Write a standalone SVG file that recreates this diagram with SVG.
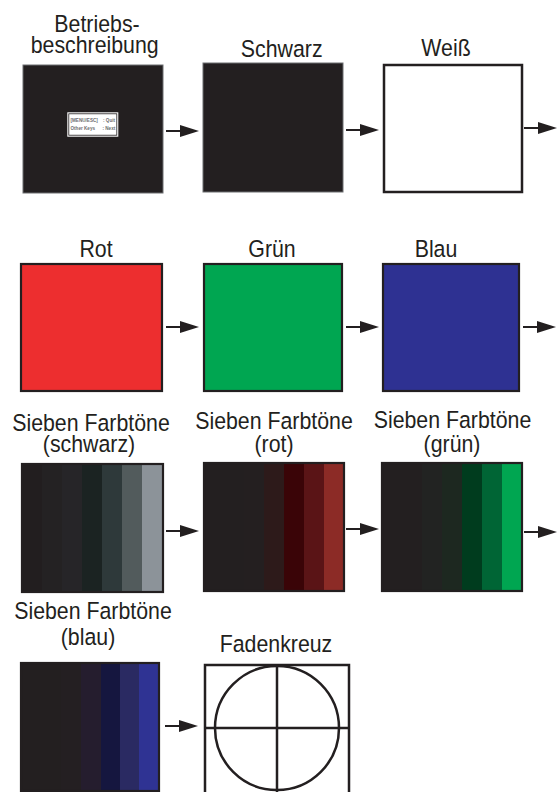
<svg xmlns="http://www.w3.org/2000/svg" width="557" height="792" viewBox="0 0 557 792">
<style>
.lbl{font-family:"Liberation Sans",Arial,sans-serif;font-size:24.5px;fill:#231f20;text-anchor:middle}
.tiny{font-family:"Liberation Sans",Arial,sans-serif;font-size:4.6px;fill:#6d6e71;font-weight:bold}
.blk{fill:#231f20;stroke:#6d6e71;stroke-width:1}
.frame{fill:none;stroke:#231f20;stroke-width:2.2}
.ln{stroke:#231f20;stroke-width:2;fill:none}
</style>
<defs>
<g id="arrow"><line x1="0" y1="0" x2="15" y2="0" class="ln"/><polygon points="14,-6 33,0 14,6" fill="#231f20"/></g>
</defs>
<rect width="557" height="792" fill="#fff"/>

<g id="betrieb">
<g transform="translate(97,32.3) scale(0.87,1)"><text class="lbl">Betriebs-</text></g>
<g transform="translate(94.7,53.3) scale(0.87,1)"><text class="lbl">beschreibung</text></g>
<rect x="23" y="65" width="140" height="128" class="blk"/>
<rect x="67.3" y="112.3" width="51" height="24.4" fill="#fff"/>
<rect x="68.8" y="113.8" width="48" height="21.4" fill="none" stroke="#231f20" stroke-width="0.8"/>
<text class="tiny" x="70.5" y="122">[MENU/ESC]</text><text class="tiny" x="103" y="122">: Quit</text>
<text class="tiny" x="70.5" y="130">Other Keys</text><text class="tiny" x="102.5" y="130">: Next</text>
</g>

<g id="schwarz">
<g transform="translate(281.7,56.7) scale(0.87,1)"><text class="lbl">Schwarz</text></g>
<rect x="203" y="63" width="140" height="129" class="blk"/>
</g>

<g id="weiss">
<g transform="translate(446,55.5) scale(0.87,1)"><text class="lbl">Weiß</text></g>
<rect x="384" y="65" width="138" height="127" fill="#fff" stroke="#231f20" stroke-width="2.5"/>
</g>

<g id="rot">
<g transform="translate(96,257) scale(0.87,1)"><text class="lbl">Rot</text></g>
<rect x="21" y="264" width="141" height="127" style="fill:#ed2e2f" class="frame"/>
</g>
<g id="gruen">
<g transform="translate(272,257) scale(0.87,1)"><text class="lbl">Grün</text></g>
<rect x="204" y="264" width="138" height="127" style="fill:#00a651" class="frame"/>
</g>
<g id="blau">
<g transform="translate(436,257) scale(0.87,1)"><text class="lbl">Blau</text></g>
<rect x="383" y="264" width="136" height="127" style="fill:#2e3192" class="frame"/>
</g>

<g id="toene-schwarz">
<g transform="translate(91,430.5) scale(0.87,1)"><text class="lbl">Sieben Farbtöne</text></g>
<g transform="translate(89,451.5) scale(0.87,1)"><text class="lbl">(schwarz)</text></g>
<rect x="22" y="464" width="20" height="128" fill="#221e1f"/>
<rect x="42" y="464" width="20" height="128" fill="#242223"/>
<rect x="62" y="464" width="20" height="128" fill="#262528"/>
<rect x="82" y="464" width="20" height="128" fill="#1b2322"/>
<rect x="102" y="464" width="20" height="128" fill="#2e393a"/>
<rect x="122" y="464" width="20" height="128" fill="#525b5c"/>
<rect x="142" y="464" width="21" height="128" fill="#8c9399"/>
<rect x="22" y="464" width="141" height="128" class="frame"/>
</g>

<g id="toene-rot">
<g transform="translate(274,428.5) scale(0.87,1)"><text class="lbl">Sieben Farbtöne</text></g>
<g transform="translate(274,452) scale(0.87,1)"><text class="lbl">(rot)</text></g>
<rect x="204" y="463" width="20" height="128" fill="#231f20"/>
<rect x="224" y="463" width="20" height="128" fill="#231f20"/>
<rect x="244" y="463" width="20" height="128" fill="#241f20"/>
<rect x="264" y="463" width="20" height="128" fill="#2d1a1a"/>
<rect x="284" y="463" width="20" height="128" fill="#3a0407"/>
<rect x="304" y="463" width="20" height="128" fill="#5a1416"/>
<rect x="324" y="463" width="20" height="128" fill="#8c2b26"/>
<rect x="204" y="463" width="140" height="128" class="frame"/>
</g>

<g id="toene-gruen">
<g transform="translate(452.5,428) scale(0.87,1)"><text class="lbl">Sieben Farbtöne</text></g>
<g transform="translate(452,452) scale(0.87,1)"><text class="lbl">(grün)</text></g>
<rect x="382" y="463" width="20" height="128" fill="#231f20"/>
<rect x="402" y="463" width="20" height="128" fill="#231f20"/>
<rect x="422" y="463" width="20" height="128" fill="#222322"/>
<rect x="442" y="463" width="20" height="128" fill="#1d2820"/>
<rect x="462" y="463" width="20" height="128" fill="#003c1e"/>
<rect x="482" y="463" width="20" height="128" fill="#006535"/>
<rect x="502" y="463" width="20" height="128" fill="#00a651"/>
<rect x="382" y="463" width="140" height="128" class="frame"/>
</g>

<g id="toene-blau">
<g transform="translate(93,619) scale(0.87,1)"><text class="lbl">Sieben Farbtöne</text></g>
<g transform="translate(88,645) scale(0.87,1)"><text class="lbl">(blau)</text></g>
<rect x="21" y="663" width="20" height="128" fill="#231f20"/>
<rect x="41" y="663" width="20" height="128" fill="#231f20"/>
<rect x="61" y="663" width="20" height="128" fill="#241f22"/>
<rect x="81" y="663" width="20" height="128" fill="#251d2e"/>
<rect x="101" y="663" width="19" height="128" fill="#15163f"/>
<rect x="120" y="663" width="19" height="128" fill="#2a2a62"/>
<rect x="139" y="663" width="20" height="128" fill="#2f3393"/>
<rect x="21" y="663" width="138" height="128" class="frame"/>
</g>

<g id="fadenkreuz">
<g transform="translate(276,652) scale(0.87,1)"><text class="lbl">Fadenkreuz</text></g>
<rect x="205" y="665" width="144" height="140" fill="#fff" stroke="#231f20" stroke-width="2.5"/>
<circle cx="277" cy="728" r="62" fill="none" stroke="#231f20" stroke-width="2.5"/>
<line x1="205" y1="728" x2="349" y2="728" stroke="#231f20" stroke-width="2.5"/>
<line x1="277" y1="665" x2="277" y2="800" stroke="#231f20" stroke-width="2.5"/>
</g>

<g id="connectors">
<use href="#arrow" x="166" y="131"/>
<use href="#arrow" x="346" y="130"/>
<use href="#arrow" x="524" y="128"/>
<use href="#arrow" x="166" y="327"/>
<use href="#arrow" x="346" y="327"/>
<use href="#arrow" x="523" y="327"/>
<use href="#arrow" x="166" y="531"/>
<use href="#arrow" x="346" y="529"/>
<use href="#arrow" x="524" y="532"/>
<use href="#arrow" x="165" y="726"/>
</g>
</svg>
